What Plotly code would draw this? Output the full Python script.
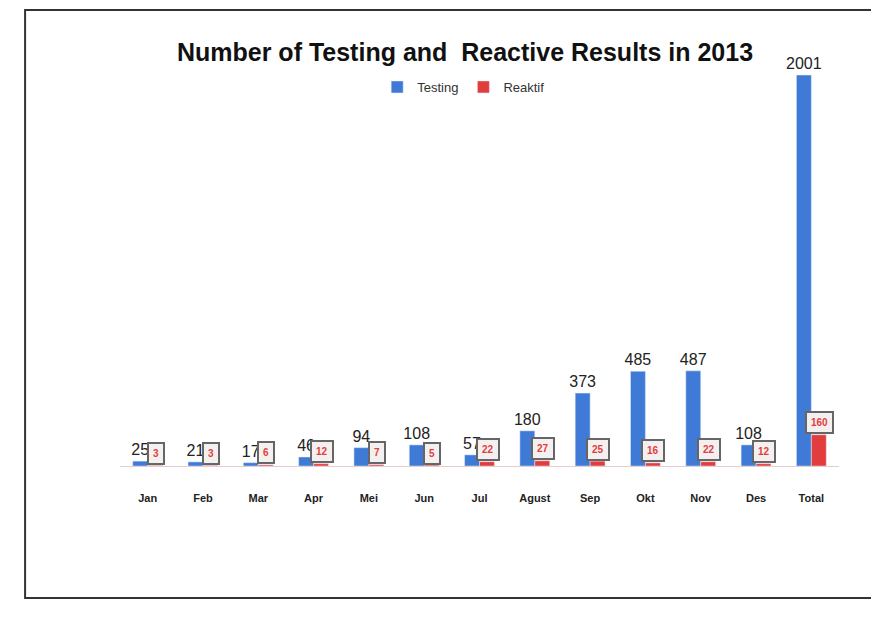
import plotly.graph_objects as go

months = ["Jan", "Feb", "Mar", "Apr", "Mei", "Jun", "Jul", "Agust", "Sep", "Okt", "Nov", "Des", "Total"]
testing = [25, 21, 17, 46, 94, 108, 57, 180, 373, 485, 487, 108, 2001]
reaktif = [3, 3, 6, 12, 7, 5, 22, 27, 25, 16, 22, 12, 160]

BLUE = "#3f7bd6"
RED = "#e23d3d"
FONT = "Liberation Sans"

# page body adds ~8px offset; layout compensates
L, R, T, B = 112, 48, 52, 159
H = 617 - T - B

fig = go.Figure()
fig.add_trace(go.Bar(
    name="Testing", x=months, y=testing, marker_color=BLUE,
    text=[str(v) for v in testing], textposition="outside", constraintext="none",
    textfont=dict(family=FONT, size=16, color="#222222"),
    cliponaxis=False,
))
fig.add_trace(go.Bar(
    name="Reaktif", x=months, y=reaktif, marker_color=RED,
    cliponaxis=False,
))

for m, v in zip(months, reaktif):
    fig.add_annotation(
        x=m, y=v, xref="x", yref="y", text=f"<b>{v}</b>", showarrow=False,
        xshift=8, yshift=12, yanchor="middle",
        font=dict(family=FONT, size=10, color=RED),
        bgcolor="#f4f0f0", bordercolor="#666666", borderwidth=2, borderpad=4,
    )

fig.add_shape(type="rect", xref="paper", yref="paper",
              x0=-0.132, x1=1.1, y0=-0.325, y1=1.123,
              line=dict(color="#333333", width=2), layer="below")

fig.update_layout(
    width=879, height=617,
    margin=dict(l=L, r=R, t=T, b=B, autoexpand=False),
    paper_bgcolor="white", plot_bgcolor="white",
    barmode="group", bargap=0.46, bargroupgap=0.0,
    title=dict(text="<b>Number of Testing and  Reactive Results in 2013</b>",
               x=457 / 879, xref="container", xanchor="center",
               y=1 - 44 / 617, yref="container", yanchor="middle",
               font=dict(family=FONT, size=25, color="#111111")),
    legend=dict(orientation="h", x=0.478, xanchor="center", y=(617 - B - 79) / H, yanchor="middle",
                font=dict(family=FONT, size=13, color="#333333"), itemwidth=30),
    xaxis=dict(showline=True, linecolor="#e6cccc", linewidth=1, ticks="",
               ticklabelstandoff=22,
               tickfont=dict(family=FONT, size=11, color="#222222"),
               tickvals=months, ticktext=[f"<b>{m}</b>" for m in months]),
    yaxis=dict(range=[0, 2078], visible=False, showgrid=False, zeroline=False),
    showlegend=True,
)

fig.write_html("out.html")
